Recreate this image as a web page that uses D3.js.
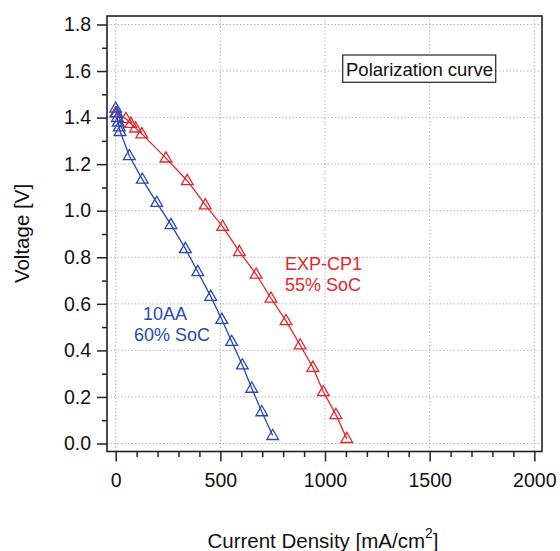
<!DOCTYPE html>
<html><head><meta charset="utf-8">
<script src="https://cdn.jsdelivr.net/npm/d3@7"></script>
<style>body{margin:0;background:#fff}text{font-family:"Liberation Sans",Arial,sans-serif}</style>
</head><body><svg id="c" width="560" height="551"></svg>
<script>
// Data (current density mA/cm², voltage V)
const expCurrent = [0, 49, 72, 95, 125, 240, 342, 428, 511, 591, 671, 742, 814, 881, 942, 992, 1052, 1104];
const expVoltage = [1.42, 1.395, 1.375, 1.355, 1.33, 1.226, 1.129, 1.025, 0.932, 0.824, 0.727, 0.624, 0.527, 0.423, 0.327, 0.222, 0.124, 0.021];
const aaCurrent = [0, 5, 8, 12, 17, 21, 65, 127, 196, 264, 333, 392, 454, 507, 554, 605, 650, 698, 750];
const aaVoltage = [1.44, 1.42, 1.40, 1.38, 1.36, 1.34, 1.236, 1.135, 1.035, 0.940, 0.837, 0.738, 0.632, 0.533, 0.438, 0.337, 0.237, 0.136, 0.034];
const xTicks = [0, 500, 1000, 1500, 2000];
const yTicks = [0.0, 0.2, 0.4, 0.6, 0.8, 1.0, 1.2, 1.4, 1.6, 1.8];
const xTitle = "Current Density [mA/cm";
const yTitle = "Voltage [V]";
const seriesLabels = [["EXP-CP1", "55% SoC"], ["10AA", "60% SoC"]];
const boxLabel = "Polarization curve";

const RED = "#e3262b", BLUE = "#2848b8";
const svg = d3.select("#c");
const L = 107, R = 542, T = 16, B = 451.5;
const x = d3.scaleLinear().domain([0, 2000]).range([115.7, 534.3]);
const y = d3.scaleLinear().domain([0, 1.8]).range([443.5, 24.5]);

// grid
const g = svg.append("g");
g.selectAll("line.vg").data(xTicks).join("line")
  .attr("x1", d => x(d)).attr("x2", d => x(d)).attr("y1", T).attr("y2", B)
  .attr("stroke", "#b4b4b4").attr("stroke-width", 1).attr("stroke-dasharray", "1.5,2");
g.selectAll("line.hg").data(yTicks).join("line")
  .attr("y1", d => y(d)).attr("y2", d => y(d)).attr("x1", L).attr("x2", R)
  .attr("stroke", "#b4b4b4").attr("stroke-width", 1).attr("stroke-dasharray", "1.5,2");

// frame
svg.append("rect").attr("x", L).attr("y", T).attr("width", R - L).attr("height", B - T)
  .attr("fill", "none").attr("stroke", "#222").attr("stroke-width", 1.6);

// axes
const fmtY = d3.format(".1f");
const yAxis = d3.axisLeft(y).tickValues(yTicks).tickFormat(fmtY).tickSize(10).tickPadding(6);
const yMinor = d3.axisLeft(y).tickValues(d3.range(0.1, 1.8, 0.2)).tickFormat("").tickSize(5);
const gy = svg.append("g").attr("transform", `translate(${L},0)`).call(yAxis);
const gym = svg.append("g").attr("transform", `translate(${L},0)`).call(yMinor);
const xAxis = d3.axisBottom(x).tickValues(xTicks).tickFormat(d3.format("d")).tickSize(10).tickPadding(12);
const xMinor = d3.axisBottom(x).tickValues(d3.range(100, 2000, 100).filter(v => v % 500)).tickFormat("").tickSize(5.5);
const gx = svg.append("g").attr("transform", `translate(0,${B})`).call(xAxis);
const gxm = svg.append("g").attr("transform", `translate(0,${B})`).call(xMinor);
[gy, gym, gx, gxm].forEach(a => {
  a.select(".domain").remove();
  a.selectAll(".tick line").attr("stroke", "#222").attr("stroke-width", 1.5);
  a.selectAll(".tick text").attr("fill", "#111").style("font-size", "19.5px").style("font-family", '"Liberation Sans",Arial,sans-serif');
});

// titles
svg.append("text").attr("transform", "translate(29,233.5) rotate(-90)").attr("text-anchor", "middle")
  .style("font-size", "20.5px").attr("fill", "#111").text(yTitle);
const xt = svg.append("text").attr("x", 323).attr("y", 548).attr("text-anchor", "middle")
  .style("font-size", "20.5px").attr("fill", "#111");
xt.append("tspan").text(xTitle);
xt.append("tspan").attr("dy", -10).style("font-size", "14px").text("2");
xt.append("tspan").attr("dy", 10).text("]");

// series
const tri = d3.symbol().type(d3.symbolTriangle).size(60);
function series(xs, ys, col) {
  const pts = xs.map((v, i) => [v, ys[i]]);
  svg.append("path").datum(pts)
    .attr("d", d3.line().x(d => x(d[0])).y(d => y(d[1])))
    .attr("fill", "none").attr("stroke", col).attr("stroke-width", 1.3);
  svg.append("g").selectAll("path").data(pts).join("path")
    .attr("transform", d => `translate(${x(d[0])},${y(d[1]) + 0.5})`)
    .attr("d", tri).attr("fill", "none").attr("stroke", col).attr("stroke-width", 1.3);
}
series(expCurrent, expVoltage, RED);
series(aaCurrent, aaVoltage, BLUE);

// annotations
function label(lines, xs, ys, col) {
  lines.forEach((t, i) => svg.append("text").attr("x", xs[i]).attr("y", ys[i])
    .style("font-size", "18px").attr("fill", col).text(t));
}
label(seriesLabels[0], [285, 285], [270, 291], RED);
label(seriesLabels[1], [143, 134], [320, 341], BLUE);

// box label
svg.append("rect").attr("x", 342.7).attr("y", 55).attr("width", 153).attr("height", 27.3)
  .attr("fill", "#fff").attr("stroke", "#333").attr("stroke-width", 1.3);
svg.append("text").attr("x", 346).attr("y", 75.7).style("font-size", "18.5px").attr("fill", "#111").text(boxLabel);
</script></body></html>
